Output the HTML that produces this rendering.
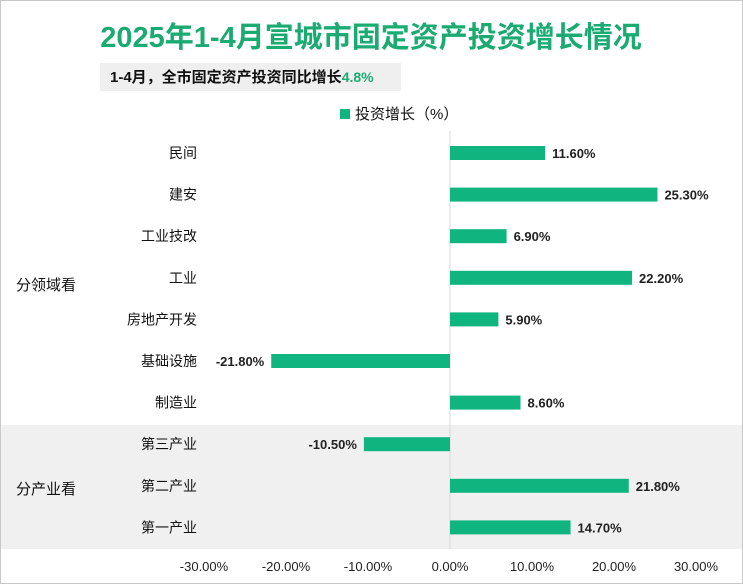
<!DOCTYPE html>
<html><head><meta charset="utf-8"><style>
body{margin:0;width:743px;height:584px;background:#fff;font-family:"Liberation Sans","Noto Sans CJK SC",sans-serif;overflow:hidden}
#wrap{position:relative;width:741px;height:582px;border:1px solid #c8c8c8}
</style></head><body>
<div id="wrap">
<svg id="chart" width="741" height="582" font-family="'Liberation Sans','Noto Sans CJK SC',sans-serif">
<rect x="0" y="424" width="741" height="124" fill="#f0f0f0"/>
<text x="370" y="46" text-anchor="middle" font-size="29" font-weight="bold" fill="#1bab72">2025年1-4月宣城市固定资产投资增长情况</text>
<rect x="99" y="62" width="301" height="28" fill="#efefef"/>
<text x="109" y="81" font-size="15" font-weight="bold" fill="#111">1-4月，全市固定资产投资同比增长<tspan fill="#1bab72" font-size="14">4.8%</tspan></text>
<rect x="339" y="108" width="10" height="10" fill="#10b47f"/>
<text x="354" y="118" font-size="15" fill="#111">投资增长（%）</text>
<line x1="449" y1="130" x2="449" y2="548" stroke="#d8d8d8"/>
<text x="45" y="289" text-anchor="middle" font-size="15" fill="#111">分领域看</text>
<text x="45" y="493" text-anchor="middle" font-size="15" fill="#111">分产业看</text>
<g id="bars"></g>
<g id="ticks"></g>
</svg>
</div>
<script>
const categories=["民间","建安","工业技改","工业","房地产开发","基础设施","制造业","第三产业","第二产业","第一产业"];
const values=[11.6,25.3,6.9,22.2,5.9,-21.8,8.6,-10.5,21.8,14.7];
const tickValues=[-30,-20,-10,0,10,20,30];
const tickLabels=["-30.00%","-20.00%","-10.00%","0.00%","10.00%","20.00%","30.00%"];
const ns="http://www.w3.org/2000/svg";
function xScale(v){return 449+v*8.2;}
function yScale(i){return 152+i*41.6;}
function mk(tag,attrs,parent){const e=document.createElementNS(ns,tag);for(const k in attrs)e.setAttribute(k,attrs[k]);parent.appendChild(e);return e;}
const bars=document.getElementById('bars');
categories.forEach((c,i)=>{
  const y=yScale(i),v=values[i];
  const x0=Math.min(xScale(0),xScale(v)),w=Math.abs(xScale(v)-xScale(0));
  const r=mk('rect',{x:x0,y:y-7,width:w,height:14,fill:'#10b47f'},bars);
  
  
  const t=mk('text',{x:196,y:y+5,'text-anchor':'end','font-size':14,fill:'#111'},bars);
  t.textContent=c;
  
  
  const lv=mk('text',{x:v>=0?xScale(v)+7:xScale(v)-7,y:y+5,'text-anchor':v>=0?'start':'end','font-size':13,'font-weight':'bold',fill:'#222'},bars);
  lv.textContent=v.toFixed(2)+'%';
  
  
});
const ticks=document.getElementById('ticks');
tickValues.forEach((v,i)=>{
  const t=mk('text',{x:xScale(v),y:570,'text-anchor':'middle','font-size':13,fill:'#222'},ticks);
  t.textContent=tickLabels[i];
  
  
});
</script>
</body></html>
